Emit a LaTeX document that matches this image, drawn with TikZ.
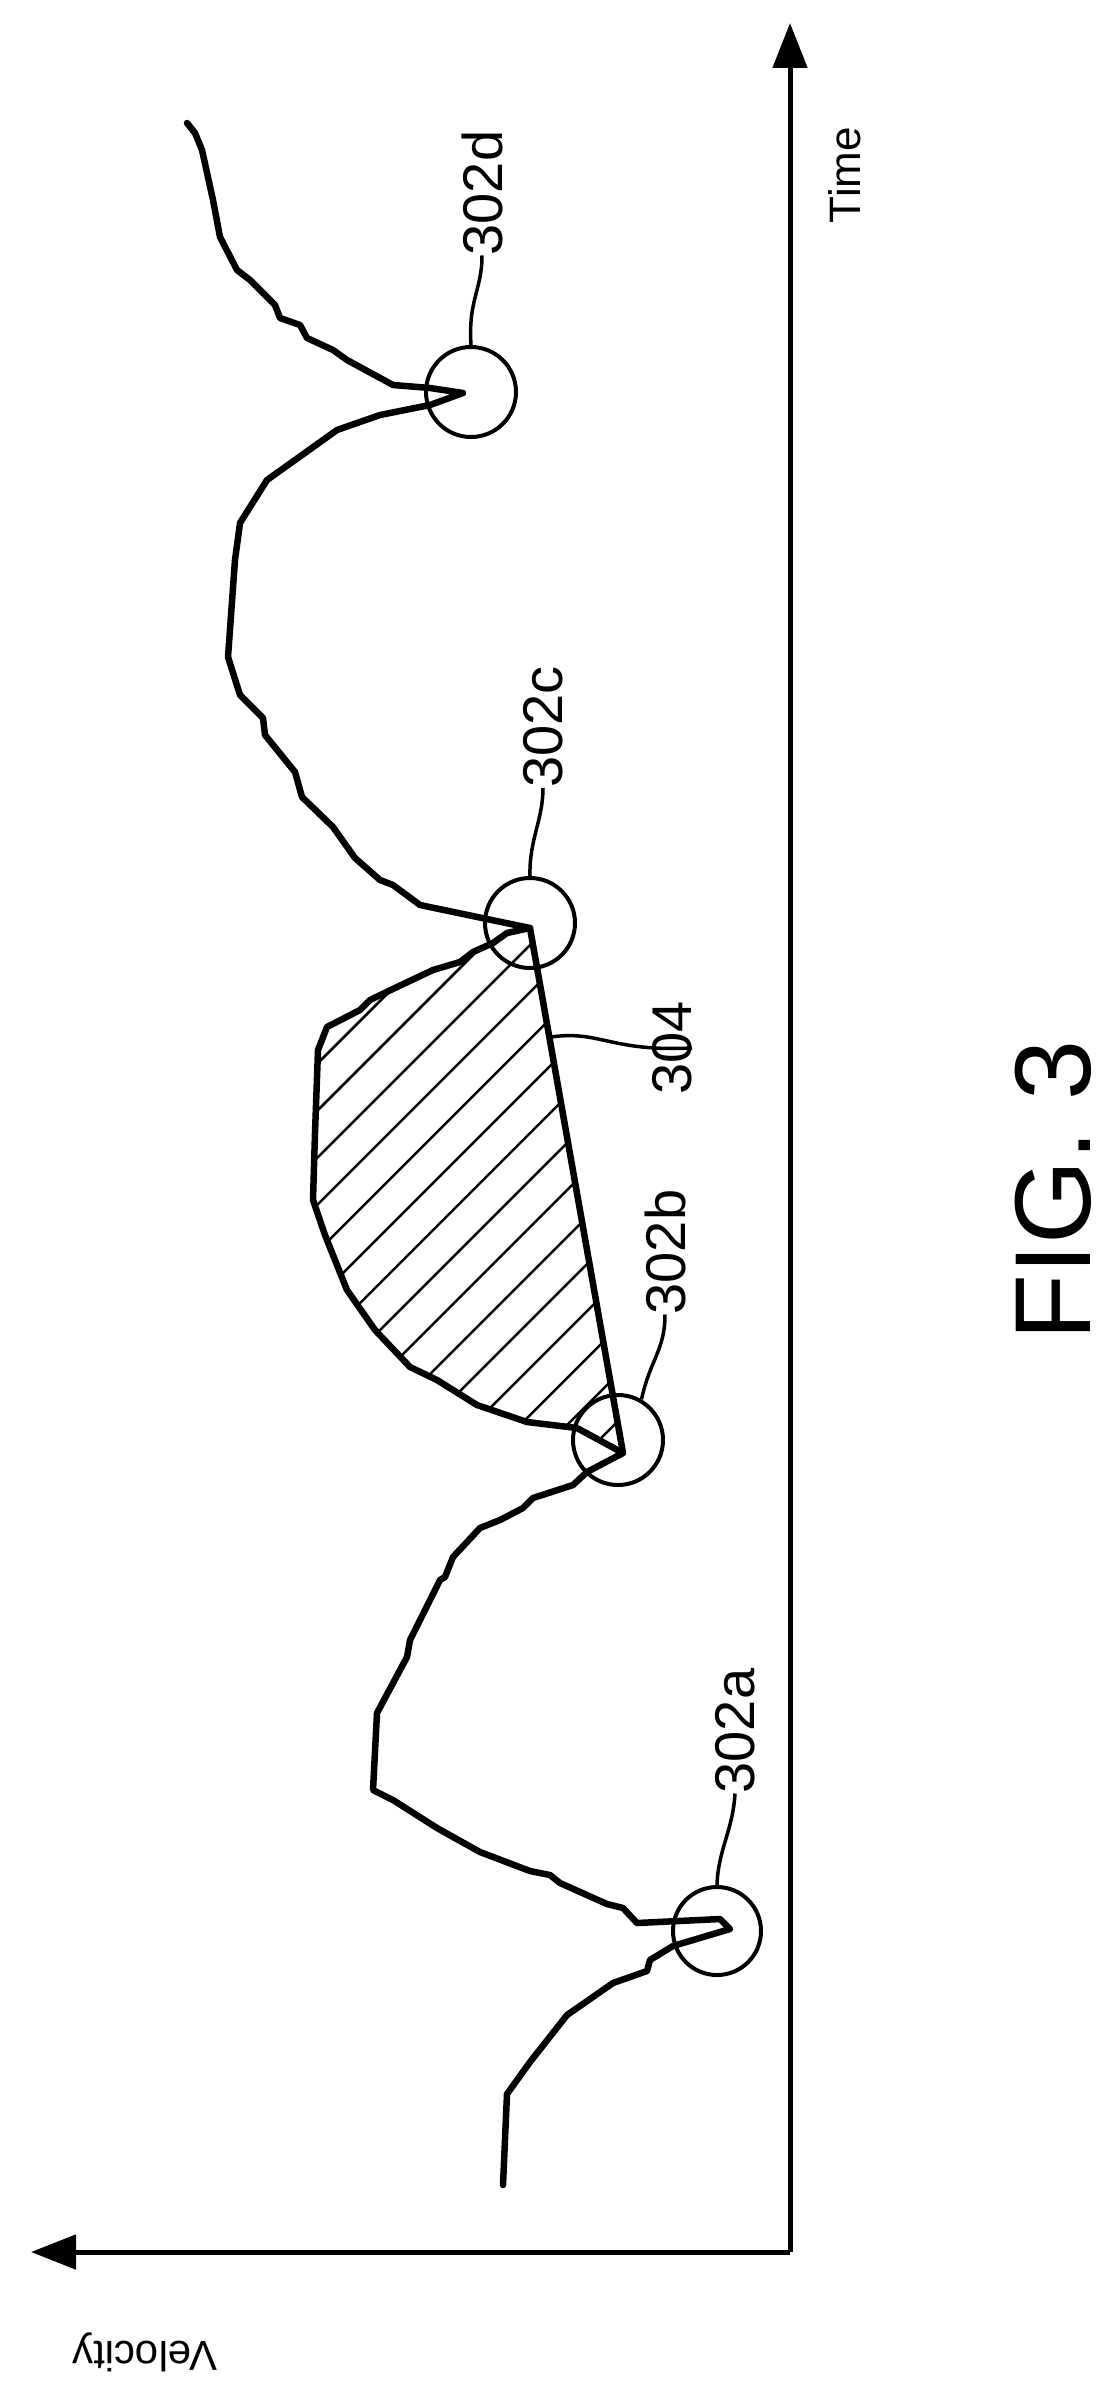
\documentclass[tikz,border=0pt]{standalone}
\usepackage{fontspec}
\setmainfont{Liberation Sans}
\usetikzlibrary{arrows.meta}
\begin{document}
\begin{tikzpicture}[x=1pt,y=-1pt,
  curve/.style={line width=6.5pt,line join=round,line cap=round},
  ring/.style={draw,circle,line width=4pt,minimum size=88pt,inner sep=0pt},
  leader/.style={line width=3.5pt},
  lbl/.style={font=\fontsize{56}{60}\selectfont,rotate=90,inner sep=0pt},
  axis/.style={line width=5pt,-{Triangle[length=45pt,width=34pt]}}]
\useasboundingbox (0,0) rectangle (1110,2395);
% axes
\coordinate (O) at (790,2252);
\coordinate (T) at (790,23);
\coordinate (V) at (31,2252);
\draw[axis] (O) -- (T);
\draw[axis] (O) -- (V);
\node[font=\fontsize{44}{48}\selectfont,rotate=90] (time) at (845,175) {Time};
\node[font=\fontsize{42}{46}\selectfont,rotate=180] (vel) at (145,2352) {Velocity};
% hatch
\begin{scope}
\clip (623,1453) -- (577,1428) -- (527,1422) -- (477,1405) -- (437,1380) -- (410,1367) -- (375,1330) -- (347,1290) -- (325,1235) -- (313,1200) -- (315,1133) -- (318,1050) -- (327,1027) -- (360,1010) -- (370,1000) -- (397,987) -- (433,970) -- (460,962) -- (473,952) -- (493,943) -- (507,933) -- (530,928) -- cycle;
\foreach \c in {1240,1287,...,2150} {\draw[line width=2.5pt] (\c-1500,1500) -- (\c-900,900);}
\end{scope}
% curve
\draw[curve] (503,2185) -- (507,2094) -- (530,2062) -- (567,2015) -- (613,1983) -- (647,1971) -- (650,1960) -- (673,1946) -- (730,1929) -- (720,1919) -- (637,1923) -- (623,1908) -- (607,1904) -- (560,1883) -- (550,1875) -- (530,1871) -- (480,1852) -- (437,1828) -- (393,1800) -- (373,1790) -- (377,1713) -- (407,1657) -- (410,1640) -- (440,1580) -- (445,1577) -- (453,1557) -- (480,1528) -- (500,1520) -- (523,1508) -- (533,1498) -- (573,1485) -- (587,1472) -- (623,1453)
 -- (577,1428) -- (527,1422) -- (477,1405) -- (437,1380) -- (410,1367) -- (375,1330) -- (347,1290) -- (325,1235) -- (313,1200) -- (315,1133) -- (318,1050) -- (327,1027) -- (360,1010) -- (370,1000) -- (397,987) -- (433,970) -- (460,962) -- (473,952) -- (493,943) -- (507,933) -- (530,928)
 -- (420,905) -- (393,885) -- (380,880) -- (355,858) -- (333,827) -- (302,797) -- (295,772) -- (265,735) -- (263,718) -- (240,695) -- (228,657) -- (235,560) -- (240,523) -- (267,480) -- (337,430) -- (380,415) -- (430,405) -- (463,393)
 -- (430,388) -- (393,385) -- (347,360) -- (333,350) -- (307,338) -- (300,325) -- (280,318) -- (275,305) -- (250,280) -- (237,270) -- (220,237) -- (213,200) -- (202,150) -- (195,133) -- (187,123);
% line 304
\coordinate (pb) at (623,1453);
\coordinate (pc) at (530,928);
\draw[curve] (pb) -- (pc);
% circles
\node[ring] (c302a) at (717,1931) {};
\node[ring,minimum size=90pt] (c302b) at (618,1440) {};
\node[ring,minimum size=90pt] (c302c) at (530,923) {};
\node[ring,minimum size=90pt] (c302d) at (471,392) {};
% labels
\node[lbl] (l302a) at (735,1731) {302a};
\node[lbl] (l302b) at (665,1252) {302b};
\node[lbl] (l302c) at (543,727) {302c};
\node[lbl] (l302d) at (482,193) {302d};
\node[lbl] (l304) at (672,1048) {304};
\draw[leader] (c302a.north) .. controls (718,1850) and (733,1830) .. (l302a.west);
\draw[leader] (c302b.60) .. controls (650,1360) and (665,1350) .. (l302b.west);
\draw[leader] (c302c.north) .. controls (529,840) and (543,820) .. (l302c.west);
\draw[leader] (c302d.north) .. controls (468,300) and (482,290) .. (l302d.west);
\coordinate (m304) at (551,1037);
\draw[leader] (m304) .. controls (600,1030) and (610,1052) .. (l304.south);
\node[font=\fontsize{108}{110}\selectfont,rotate=90] (fig) at (1053,1190) {FIG. 3};
\end{tikzpicture}
\end{document}
